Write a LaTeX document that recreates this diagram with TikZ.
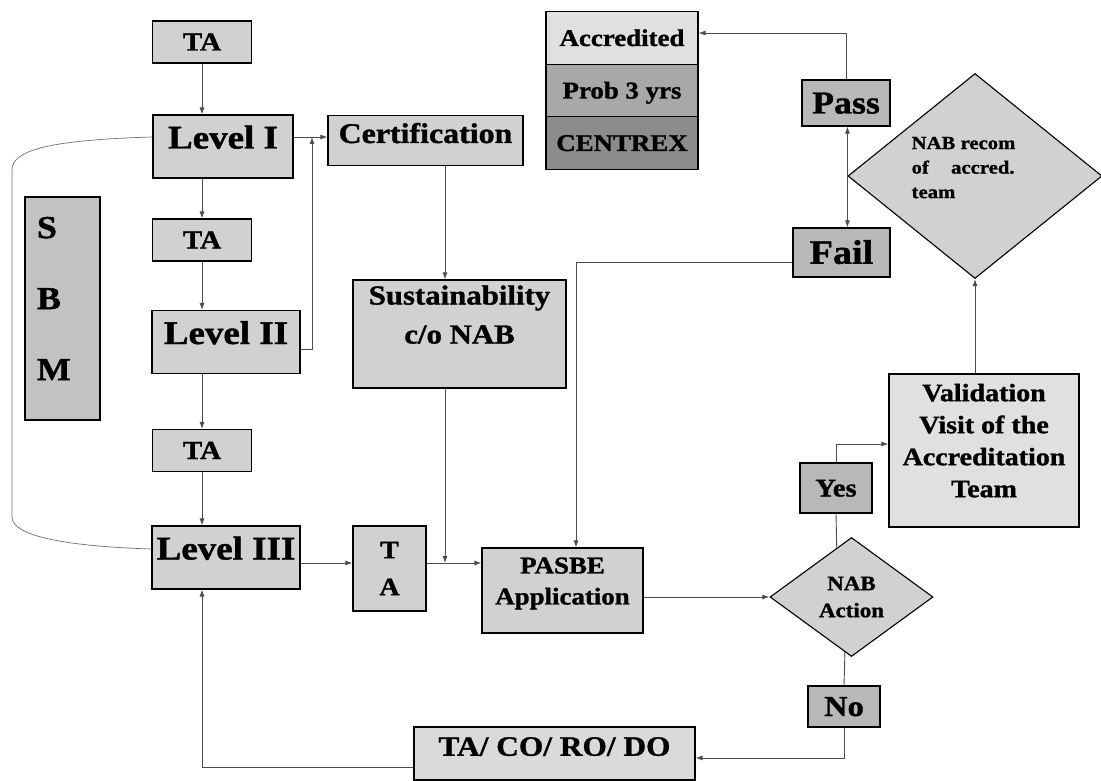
\documentclass[tikz,border=0pt]{standalone}
\usepackage{fontspec}
\setmainfont{Liberation Serif}[FakeStretch=1.12, BoldFeatures={FakeBold=1.2}]
\usetikzlibrary{shapes.geometric,arrows.meta,calc}

\definecolor{boxfill}{gray}{0.82}
\definecolor{darkfill}{gray}{0.72}
\definecolor{lightfill}{gray}{0.88}
\definecolor{probfill}{gray}{0.66}
\definecolor{centrexfill}{gray}{0.55}
\definecolor{sbmfill}{gray}{0.76}
\definecolor{linegray}{gray}{0.3}
\newcommand{\boxfont}[2]{\bfseries\fontsize{#1pt}{#2pt}\selectfont}

\begin{document}
\begin{tikzpicture}
  [x=1pt, y=-1pt, >={Latex[length=7pt,width=5pt]},
   box/.style={draw=black, line width=1.1pt, fill=boxfill, inner sep=0pt, align=center},
   tabox/.style={box, minimum width=99pt, minimum height=42pt, font=\boxfont{26}{30},
     text height=17pt, text depth=0pt},
   levelbox/.style={box, minimum width=148pt, minimum height=63pt, font=\boxfont{33}{36},
     text height=24pt, text depth=20pt},
   answer/.style={box, fill=darkfill},
   stack/.style={box, minimum width=152pt, minimum height=52.5pt, font=\boxfont{24}{28},
     text height=16pt, text depth=0pt},
   decide/.style={diamond, draw=black, line width=1.1pt, fill=boxfill, inner sep=0pt, align=center},
   wire/.style={draw=linegray, line width=0.9pt},
   link/.style={wire, ->},
   sbmline/.style={draw=linegray!80, line width=0.7pt}]

  \path [use as bounding box, fill=white] (0,0) rectangle (1101,781);

  % left column
  \node [tabox, name=ta1] at (202,42) {TA};
  \node [levelbox, name=levelI, minimum width=140pt] at (223,146.5) {Level I};
  \node [tabox, name=ta2, below of=ta1, node distance=198pt] {TA};
  \node [levelbox, name=levelII] at (226,342) {Level II};
  \node [tabox, name=ta3, below of=ta2, node distance=210.5pt] {TA};
  \node [levelbox, name=levelIII, below of=levelII, node distance=215.5pt] {Level III};
  \node [box, name=sbm, fill=sbmfill, minimum width=75pt, minimum height=223pt,
    align=left, font=\boxfont{32}{71}] at (62.5,308.5)
    {S\\B\\\makebox[51pt][l]{M}\\[-51pt]\mbox{}};

  \node [box, name=cert, minimum width=195pt, minimum height=50pt, font=\boxfont{28.5}{32},
    text height=24pt, text depth=19pt] at (425.5,140.5) {Certification};
  \node [box, name=sust, minimum width=213pt, minimum height=108pt, font=\boxfont{27.5}{39}]
    at (459.5,334) {Sustainability\\c/o NAB\\[0pt]\mbox{}};
  \node [box, name=tav, minimum width=73pt, minimum height=85pt, font=\boxfont{25}{37}]
    at (389.5,568.5) {T\\A};
  \node [box, name=pasbe, minimum width=161pt, minimum height=85pt, font=\boxfont{24}{31}]
    at (562.5,590.5) {PASBE\\Application\\[-12pt]\mbox{}};
  \node [box, name=taco, fill=lightfill!60!boxfill, minimum width=281pt, minimum height=53pt,
    font=\boxfont{28}{32}, text height=22pt, text depth=17.5pt] at (554.5,753.5) {TA/ CO/ RO/ DO};

  % decisions
  \node [decide, name=nabact, minimum width=163pt, minimum height=119pt, font=\boxfont{20.5}{27}]
    at (851.5,597) {NAB\\Action};
  \node [answer, name=yes, minimum width=72pt, minimum height=50pt, font=\boxfont{25.5}{30},
    text height=17pt, text depth=0pt] at (836,488) {Yes};
  \node [answer, name=no, minimum width=72pt, minimum height=41pt, font=\boxfont{29}{32},
    text height=19pt, text depth=0pt] at (844,706.5) {No};
  \node [box, name=valid, fill=lightfill, minimum width=190pt, minimum height=153pt,
    font=\boxfont{25}{32}] at (984,450.5)
    {Validation\\Visit of the\\Accreditation\\Team\\[-12pt]\mbox{}};
  \node [decide, name=nabrec, minimum width=254pt, minimum height=199pt, align=left,
    font=\boxfont{18.5}{24.5}] at (975,176)
    {NAB recom\hspace*{23pt}\\of\hspace{17pt} accred.\\team\\[-7.5pt]\mbox{}};
  \node [answer, name=pass, minimum width=88pt, minimum height=46pt, font=\boxfont{32}{36},
    text height=21pt, text depth=0pt] at (846,103) {Pass};
  \node [answer, name=fail, minimum width=97pt, minimum height=49pt, font=\boxfont{34}{38},
    text height=22.5pt, text depth=0pt] at (841.5,252.5) {Fail};

  % result stack
  \node [stack, name=acc, fill=lightfill] at (622,38) {Accredited};
  \node [stack, name=prob, fill=probfill, below of=acc, node distance=52.5pt] {Prob 3 yrs};
  \node [stack, name=centrex, fill=centrexfill, below of=prob, node distance=52.5pt] {CENTREX};

  \coordinate (certin) at (312,137);
  \coordinate (join) at (445,563);

  \draw [link] (ta1.south) -- (ta1.south |- levelI.north);
  \draw [link] (ta2.north |- levelI.south) -- (ta2.north);
  \draw [link] (ta2.south) -- (ta2.south |- levelII.north);
  \draw [link] (ta3.north |- levelII.south) -- (ta3.north);
  \draw [link] (ta3.south) -- (ta3.south |- levelIII.north);
  \draw [link] (levelI.east |- certin) -- (cert.west |- certin);
  \draw [link] ([yshift=-7pt]levelII.east) -| (certin);
  \draw [link] (join |- cert.south) -- (join |- sust.north);
  \draw [link] (join |- sust.south) -- (join);
  \draw [link] (levelIII.east |- join) -- (tav.west |- join);
  \draw [link] (tav.east |- join) -- (pasbe.west |- join);
  \draw [link] (pasbe.east |- nabact.west) -- (nabact.west);
  \draw [wire] (yes.south) -- ($(nabact.north)!0.18!(nabact.west)$);
  \draw [link] (yes.north) |- ([yshift=6.5pt]valid.west);
  \draw [wire] ($(nabact.south)!0.08!(nabact.west)$) -- (no.north);
  \draw [link] (no.south) |- ([yshift=-4.5pt]taco.east);
  \draw [link] ([yshift=-13.5pt]taco.west) -| (ta3.south |- levelIII.south);
  \draw [link] (nabrec.south |- valid.north) -- (nabrec.south);
  \draw [link] (nabrec.west) -- (nabrec.west |- pass.south);
  \draw [link] (nabrec.west) -- (nabrec.west |- fail.north);
  \draw [link] (pass.north) |- ([yshift=5pt]acc.east);
  \draw [link] ([yshift=-9.5pt]fail.west) -| ([xshift=13.5pt]pasbe.north);

  % SBM loop
  \draw [sbmline] ([yshift=9.5pt]levelI.west) .. controls (50,140) and (12,150) .. (12,170)
    -- (12,517) .. controls (12,535) and (60,546) .. ([yshift=8.5pt]levelIII.west);
\end{tikzpicture}
\end{document}
